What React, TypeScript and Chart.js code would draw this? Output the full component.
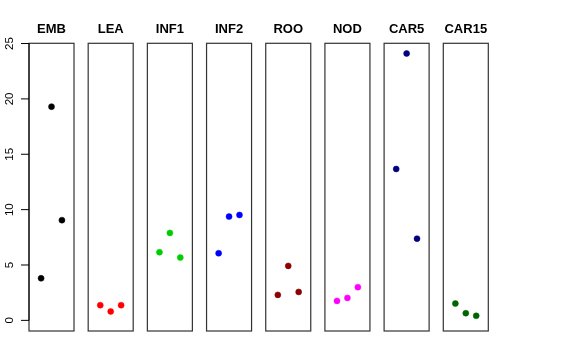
import React, { useEffect, useRef } from "react";
import { Chart, registerables } from "chart.js";

Chart.register(...registerables);

const categories = ["EMB", "LEA", "INF1", "INF2", "ROO", "NOD", "CAR5", "CAR15"];
const colors = ["#000000", "#FF0000", "#00CD00", "#0000FF", "#8B0000", "#FF00FF", "#000080", "#006400"];
const EMB = [3.8, 19.3, 9.05];
const LEA = [1.37, 0.8, 1.37];
const INF1 = [6.15, 7.9, 5.67];
const INF2 = [6.06, 9.37, 9.52];
const ROO = [2.3, 4.92, 2.57];
const NOD = [1.76, 2.03, 3.0];
const CAR5 = [13.67, 24.1, 7.38];
const CAR15 = [1.52, 0.65, 0.41];
const seriesValues = [EMB, LEA, INF1, INF2, ROO, NOD, CAR5, CAR15];
const positions = [1, 2, 3];
const yTicks = [0, 5, 10, 15, 20, 25];

const PANEL_MIN = -0.16;
const PANEL_MAX = 4.16;
const PITCH = 5.68;

const panelPlugin = {
  id: "panels",
  afterDraw(chart: any) {
    const ctx = chart.ctx;
    const xs = chart.scales.x;
    const ys = chart.scales.y;
    const top = ys.getPixelForValue(ys.max);
    const bottom = ys.getPixelForValue(ys.min);
    ctx.save();
    categories.forEach((name, i) => {
      const l = xs.getPixelForValue(i * PITCH + PANEL_MIN);
      const r = xs.getPixelForValue(i * PITCH + PANEL_MAX);
      ctx.strokeStyle = "#333333";
      ctx.lineWidth = 1.2;
      ctx.strokeRect(l, top, r - l, bottom - top);
      ctx.fillStyle = "#000";
      ctx.font = "bold 13px 'Liberation Sans', Arial, sans-serif";
      ctx.textAlign = "center";
      ctx.textBaseline = "middle";
      ctx.fillText(name, (l + r) / 2, 29);
    });
    // y axis
    const axX = xs.getPixelForValue(PANEL_MIN);
    ctx.strokeStyle = "#000";
    ctx.lineWidth = 1;
    ctx.beginPath();
    ctx.moveTo(axX, ys.getPixelForValue(yTicks[0]));
    ctx.lineTo(axX, ys.getPixelForValue(yTicks[yTicks.length - 1]));
    ctx.stroke();
    ctx.font = "11.5px 'Liberation Sans', Arial, sans-serif";
    ctx.fillStyle = "#000";
    yTicks.forEach((t) => {
      const py = ys.getPixelForValue(t);
      ctx.beginPath();
      ctx.moveTo(axX - 8, py);
      ctx.lineTo(axX, py);
      ctx.stroke();
      ctx.save();
      ctx.translate(10, py);
      ctx.rotate(-Math.PI / 2);
      ctx.textAlign = "center";
      ctx.textBaseline = "middle";
      ctx.fillText(String(t), 0, 0);
      ctx.restore();
    });
    ctx.restore();
  },
};

export default function App() {
  const ref = useRef<HTMLCanvasElement | null>(null);
  useEffect(() => {
    if (!ref.current) return;
    const datasets = seriesValues.map((vals, i) => ({
      label: categories[i],
      data: vals.map((v, j) => ({ x: i * PITCH + positions[j], y: v })),
      backgroundColor: colors[i],
      borderColor: colors[i],
      pointRadius: 3,
      borderWidth: 0.5,
    }));
    const chart = new Chart(ref.current, {
      type: "scatter",
      data: { datasets },
      options: {
        animation: false,
        responsive: false,
        maintainAspectRatio: false,
        layout: { padding: { left: 29, right: 87.7, top: 43.3, bottom: 29 } },
        plugins: { legend: { display: false }, tooltip: { enabled: false } },
        scales: {
          x: { type: "linear", display: false, min: PANEL_MIN, max: 7 * PITCH + PANEL_MAX },
          y: { type: "linear", display: false, min: -0.96, max: 25.02 },
        },
      },
      plugins: [panelPlugin],
    });
    return () => chart.destroy();
  }, []);
  return (
    <div style={{ position: "fixed", left: 0, top: 0, width: 576, height: 360, background: "#fff" }}>
      <canvas ref={ref} width={576} height={360} style={{ width: 576, height: 360 }} />
    </div>
  );
}
